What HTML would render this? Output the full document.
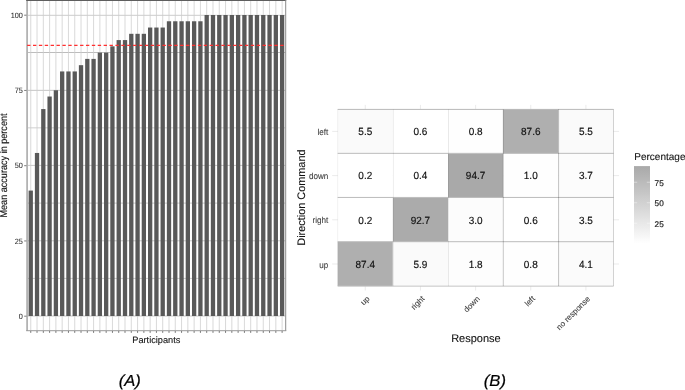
<!DOCTYPE html>
<html><head><meta charset="utf-8"><style>
html,body{margin:0;padding:0;background:#fff;}
body{width:685px;height:390px;overflow:hidden;}
svg{display:block;font-family:"Liberation Sans",sans-serif;text-rendering:geometricPrecision;}
</style></head><body>
<svg width="685" height="390" viewBox="0 0 685 390">
<rect width="685" height="390" fill="#fff"/>
<line x1="27.1" x2="285.4" y1="15.35" y2="15.35" stroke="#d6d6d6" stroke-width="1.3"/>
<line x1="27.1" x2="285.4" y1="52.5" y2="52.5" stroke="#bdbdbd" stroke-width="1.0"/>
<line x1="27.1" x2="285.4" y1="90.35" y2="90.35" stroke="#c6c6c6" stroke-width="1.0"/>
<line x1="27.1" x2="285.4" y1="127.8" y2="127.8" stroke="#e0e0e0" stroke-width="1.4"/>
<line x1="27.1" x2="285.4" y1="165.4" y2="165.4" stroke="#c8c8c8" stroke-width="1.0"/>
<line x1="27.1" x2="285.4" y1="203.1" y2="203.1" stroke="#cccccc" stroke-width="1.0"/>
<line x1="27.1" x2="285.4" y1="240.8" y2="240.8" stroke="#c8c8c8" stroke-width="1.0"/>
<line x1="27.1" x2="285.4" y1="278.4" y2="278.4" stroke="#cccccc" stroke-width="1.0"/>
<line x1="27.1" x2="285.4" y1="316" y2="316" stroke="#c8c8c8" stroke-width="1.0"/>
<line x1="30.75" x2="30.75" y1="-0.05" y2="331.05" stroke="#cccccc" stroke-width="0.75"/>
<line x1="37.03" x2="37.03" y1="-0.05" y2="331.05" stroke="#cccccc" stroke-width="0.75"/>
<line x1="43.32" x2="43.32" y1="-0.05" y2="331.05" stroke="#cccccc" stroke-width="0.75"/>
<line x1="49.60" x2="49.60" y1="-0.05" y2="331.05" stroke="#cccccc" stroke-width="0.75"/>
<line x1="55.89" x2="55.89" y1="-0.05" y2="331.05" stroke="#cccccc" stroke-width="0.75"/>
<line x1="62.17" x2="62.17" y1="-0.05" y2="331.05" stroke="#cccccc" stroke-width="0.75"/>
<line x1="68.45" x2="68.45" y1="-0.05" y2="331.05" stroke="#cccccc" stroke-width="0.75"/>
<line x1="74.74" x2="74.74" y1="-0.05" y2="331.05" stroke="#cccccc" stroke-width="0.75"/>
<line x1="81.02" x2="81.02" y1="-0.05" y2="331.05" stroke="#cccccc" stroke-width="0.75"/>
<line x1="87.31" x2="87.31" y1="-0.05" y2="331.05" stroke="#cccccc" stroke-width="0.75"/>
<line x1="93.59" x2="93.59" y1="-0.05" y2="331.05" stroke="#cccccc" stroke-width="0.75"/>
<line x1="99.87" x2="99.87" y1="-0.05" y2="331.05" stroke="#cccccc" stroke-width="0.75"/>
<line x1="106.16" x2="106.16" y1="-0.05" y2="331.05" stroke="#cccccc" stroke-width="0.75"/>
<line x1="112.44" x2="112.44" y1="-0.05" y2="331.05" stroke="#cccccc" stroke-width="0.75"/>
<line x1="118.73" x2="118.73" y1="-0.05" y2="331.05" stroke="#cccccc" stroke-width="0.75"/>
<line x1="125.01" x2="125.01" y1="-0.05" y2="331.05" stroke="#cccccc" stroke-width="0.75"/>
<line x1="131.29" x2="131.29" y1="-0.05" y2="331.05" stroke="#cccccc" stroke-width="0.75"/>
<line x1="137.58" x2="137.58" y1="-0.05" y2="331.05" stroke="#cccccc" stroke-width="0.75"/>
<line x1="143.86" x2="143.86" y1="-0.05" y2="331.05" stroke="#cccccc" stroke-width="0.75"/>
<line x1="150.15" x2="150.15" y1="-0.05" y2="331.05" stroke="#cccccc" stroke-width="0.75"/>
<line x1="156.43" x2="156.43" y1="-0.05" y2="331.05" stroke="#cccccc" stroke-width="0.75"/>
<line x1="162.71" x2="162.71" y1="-0.05" y2="331.05" stroke="#cccccc" stroke-width="0.75"/>
<line x1="169.00" x2="169.00" y1="-0.05" y2="331.05" stroke="#cccccc" stroke-width="0.75"/>
<line x1="175.28" x2="175.28" y1="-0.05" y2="331.05" stroke="#cccccc" stroke-width="0.75"/>
<line x1="181.57" x2="181.57" y1="-0.05" y2="331.05" stroke="#cccccc" stroke-width="0.75"/>
<line x1="187.85" x2="187.85" y1="-0.05" y2="331.05" stroke="#cccccc" stroke-width="0.75"/>
<line x1="194.13" x2="194.13" y1="-0.05" y2="331.05" stroke="#cccccc" stroke-width="0.75"/>
<line x1="200.42" x2="200.42" y1="-0.05" y2="331.05" stroke="#cccccc" stroke-width="0.75"/>
<line x1="206.70" x2="206.70" y1="-0.05" y2="331.05" stroke="#cccccc" stroke-width="0.75"/>
<line x1="212.99" x2="212.99" y1="-0.05" y2="331.05" stroke="#cccccc" stroke-width="0.75"/>
<line x1="219.27" x2="219.27" y1="-0.05" y2="331.05" stroke="#cccccc" stroke-width="0.75"/>
<line x1="225.55" x2="225.55" y1="-0.05" y2="331.05" stroke="#cccccc" stroke-width="0.75"/>
<line x1="231.84" x2="231.84" y1="-0.05" y2="331.05" stroke="#cccccc" stroke-width="0.75"/>
<line x1="238.12" x2="238.12" y1="-0.05" y2="331.05" stroke="#cccccc" stroke-width="0.75"/>
<line x1="244.41" x2="244.41" y1="-0.05" y2="331.05" stroke="#cccccc" stroke-width="0.75"/>
<line x1="250.69" x2="250.69" y1="-0.05" y2="331.05" stroke="#cccccc" stroke-width="0.75"/>
<line x1="256.97" x2="256.97" y1="-0.05" y2="331.05" stroke="#cccccc" stroke-width="0.75"/>
<line x1="263.26" x2="263.26" y1="-0.05" y2="331.05" stroke="#cccccc" stroke-width="0.75"/>
<line x1="269.54" x2="269.54" y1="-0.05" y2="331.05" stroke="#cccccc" stroke-width="0.75"/>
<line x1="275.83" x2="275.83" y1="-0.05" y2="331.05" stroke="#cccccc" stroke-width="0.75"/>
<line x1="282.11" x2="282.11" y1="-0.05" y2="331.05" stroke="#cccccc" stroke-width="0.75"/>
<rect x="28.60" y="190.58" width="4.3" height="125.42" fill="#595959"/>
<rect x="34.88" y="152.96" width="4.3" height="163.04" fill="#595959"/>
<rect x="41.17" y="109.06" width="4.3" height="206.94" fill="#595959"/>
<rect x="47.45" y="96.52" width="4.3" height="219.48" fill="#595959"/>
<rect x="53.74" y="90.25" width="4.3" height="225.75" fill="#595959"/>
<rect x="60.02" y="71.44" width="4.3" height="244.56" fill="#595959"/>
<rect x="66.30" y="71.44" width="4.3" height="244.56" fill="#595959"/>
<rect x="72.59" y="71.44" width="4.3" height="244.56" fill="#595959"/>
<rect x="78.87" y="65.17" width="4.3" height="250.83" fill="#595959"/>
<rect x="85.16" y="58.90" width="4.3" height="257.10" fill="#595959"/>
<rect x="91.44" y="58.90" width="4.3" height="257.10" fill="#595959"/>
<rect x="97.72" y="52.62" width="4.3" height="263.38" fill="#595959"/>
<rect x="104.01" y="52.62" width="4.3" height="263.38" fill="#595959"/>
<rect x="110.29" y="46.35" width="4.3" height="269.65" fill="#595959"/>
<rect x="116.58" y="40.08" width="4.3" height="275.92" fill="#595959"/>
<rect x="122.86" y="40.08" width="4.3" height="275.92" fill="#595959"/>
<rect x="129.14" y="33.81" width="4.3" height="282.19" fill="#595959"/>
<rect x="135.43" y="33.81" width="4.3" height="282.19" fill="#595959"/>
<rect x="141.71" y="33.81" width="4.3" height="282.19" fill="#595959"/>
<rect x="148.00" y="27.54" width="4.3" height="288.46" fill="#595959"/>
<rect x="154.28" y="27.54" width="4.3" height="288.46" fill="#595959"/>
<rect x="160.56" y="27.54" width="4.3" height="288.46" fill="#595959"/>
<rect x="166.85" y="21.27" width="4.3" height="294.73" fill="#595959"/>
<rect x="173.13" y="21.27" width="4.3" height="294.73" fill="#595959"/>
<rect x="179.42" y="21.27" width="4.3" height="294.73" fill="#595959"/>
<rect x="185.70" y="21.27" width="4.3" height="294.73" fill="#595959"/>
<rect x="191.98" y="21.27" width="4.3" height="294.73" fill="#595959"/>
<rect x="198.27" y="21.27" width="4.3" height="294.73" fill="#595959"/>
<rect x="204.55" y="15.00" width="4.3" height="301.00" fill="#595959"/>
<rect x="210.84" y="15.00" width="4.3" height="301.00" fill="#595959"/>
<rect x="217.12" y="15.00" width="4.3" height="301.00" fill="#595959"/>
<rect x="223.40" y="15.00" width="4.3" height="301.00" fill="#595959"/>
<rect x="229.69" y="15.00" width="4.3" height="301.00" fill="#595959"/>
<rect x="235.97" y="15.00" width="4.3" height="301.00" fill="#595959"/>
<rect x="242.26" y="15.00" width="4.3" height="301.00" fill="#595959"/>
<rect x="248.54" y="15.00" width="4.3" height="301.00" fill="#595959"/>
<rect x="254.82" y="15.00" width="4.3" height="301.00" fill="#595959"/>
<rect x="261.11" y="15.00" width="4.3" height="301.00" fill="#595959"/>
<rect x="267.39" y="15.00" width="4.3" height="301.00" fill="#595959"/>
<rect x="273.68" y="15.00" width="4.3" height="301.00" fill="#595959"/>
<rect x="279.96" y="15.00" width="4.3" height="301.00" fill="#595959"/>
<rect x="26.2" y="0" width="1.8" height="331" fill="#b3b3b3"/>
<rect x="26.2" y="0" width="260" height="1" fill="#5e5e5e"/>
<rect x="285.2" y="0" width="1" height="331" fill="#8a8a8a"/>
<rect x="26.2" y="330.2" width="260" height="1" fill="#9a9a9a"/>
<line x1="27.1" x2="285.4" y1="45.35" y2="45.35" stroke="#ff3030" stroke-width="1.3" stroke-dasharray="3.35 2.537"/>
<line x1="24.2" x2="26.5" y1="316.20" y2="316.20" stroke="#666" stroke-width="0.85"/>
<line x1="24.2" x2="26.5" y1="240.95" y2="240.95" stroke="#666" stroke-width="0.85"/>
<line x1="24.2" x2="26.5" y1="165.70" y2="165.70" stroke="#666" stroke-width="0.85"/>
<line x1="24.2" x2="26.5" y1="90.45" y2="90.45" stroke="#666" stroke-width="0.85"/>
<line x1="24.2" x2="26.5" y1="15.20" y2="15.20" stroke="#666" stroke-width="0.85"/>
<line x1="30.75" x2="30.75" y1="331" y2="332.9" stroke="#666" stroke-width="0.85"/>
<line x1="37.03" x2="37.03" y1="331" y2="332.9" stroke="#666" stroke-width="0.85"/>
<line x1="43.32" x2="43.32" y1="331" y2="332.9" stroke="#666" stroke-width="0.85"/>
<line x1="49.60" x2="49.60" y1="331" y2="332.9" stroke="#666" stroke-width="0.85"/>
<line x1="55.89" x2="55.89" y1="331" y2="332.9" stroke="#666" stroke-width="0.85"/>
<line x1="62.17" x2="62.17" y1="331" y2="332.9" stroke="#666" stroke-width="0.85"/>
<line x1="68.45" x2="68.45" y1="331" y2="332.9" stroke="#666" stroke-width="0.85"/>
<line x1="74.74" x2="74.74" y1="331" y2="332.9" stroke="#666" stroke-width="0.85"/>
<line x1="81.02" x2="81.02" y1="331" y2="332.9" stroke="#666" stroke-width="0.85"/>
<line x1="87.31" x2="87.31" y1="331" y2="332.9" stroke="#666" stroke-width="0.85"/>
<line x1="93.59" x2="93.59" y1="331" y2="332.9" stroke="#666" stroke-width="0.85"/>
<line x1="99.87" x2="99.87" y1="331" y2="332.9" stroke="#666" stroke-width="0.85"/>
<line x1="106.16" x2="106.16" y1="331" y2="332.9" stroke="#666" stroke-width="0.85"/>
<line x1="112.44" x2="112.44" y1="331" y2="332.9" stroke="#666" stroke-width="0.85"/>
<line x1="118.73" x2="118.73" y1="331" y2="332.9" stroke="#666" stroke-width="0.85"/>
<line x1="125.01" x2="125.01" y1="331" y2="332.9" stroke="#666" stroke-width="0.85"/>
<line x1="131.29" x2="131.29" y1="331" y2="332.9" stroke="#666" stroke-width="0.85"/>
<line x1="137.58" x2="137.58" y1="331" y2="332.9" stroke="#666" stroke-width="0.85"/>
<line x1="143.86" x2="143.86" y1="331" y2="332.9" stroke="#666" stroke-width="0.85"/>
<line x1="150.15" x2="150.15" y1="331" y2="332.9" stroke="#666" stroke-width="0.85"/>
<line x1="156.43" x2="156.43" y1="331" y2="332.9" stroke="#666" stroke-width="0.85"/>
<line x1="162.71" x2="162.71" y1="331" y2="332.9" stroke="#666" stroke-width="0.85"/>
<line x1="169.00" x2="169.00" y1="331" y2="332.9" stroke="#666" stroke-width="0.85"/>
<line x1="175.28" x2="175.28" y1="331" y2="332.9" stroke="#666" stroke-width="0.85"/>
<line x1="181.57" x2="181.57" y1="331" y2="332.9" stroke="#666" stroke-width="0.85"/>
<line x1="187.85" x2="187.85" y1="331" y2="332.9" stroke="#666" stroke-width="0.85"/>
<line x1="194.13" x2="194.13" y1="331" y2="332.9" stroke="#666" stroke-width="0.85"/>
<line x1="200.42" x2="200.42" y1="331" y2="332.9" stroke="#666" stroke-width="0.85"/>
<line x1="206.70" x2="206.70" y1="331" y2="332.9" stroke="#666" stroke-width="0.85"/>
<line x1="212.99" x2="212.99" y1="331" y2="332.9" stroke="#666" stroke-width="0.85"/>
<line x1="219.27" x2="219.27" y1="331" y2="332.9" stroke="#666" stroke-width="0.85"/>
<line x1="225.55" x2="225.55" y1="331" y2="332.9" stroke="#666" stroke-width="0.85"/>
<line x1="231.84" x2="231.84" y1="331" y2="332.9" stroke="#666" stroke-width="0.85"/>
<line x1="238.12" x2="238.12" y1="331" y2="332.9" stroke="#666" stroke-width="0.85"/>
<line x1="244.41" x2="244.41" y1="331" y2="332.9" stroke="#666" stroke-width="0.85"/>
<line x1="250.69" x2="250.69" y1="331" y2="332.9" stroke="#666" stroke-width="0.85"/>
<line x1="256.97" x2="256.97" y1="331" y2="332.9" stroke="#666" stroke-width="0.85"/>
<line x1="263.26" x2="263.26" y1="331" y2="332.9" stroke="#666" stroke-width="0.85"/>
<line x1="269.54" x2="269.54" y1="331" y2="332.9" stroke="#666" stroke-width="0.85"/>
<line x1="275.83" x2="275.83" y1="331" y2="332.9" stroke="#666" stroke-width="0.85"/>
<line x1="282.11" x2="282.11" y1="331" y2="332.9" stroke="#666" stroke-width="0.85"/>
<text transform="translate(22.90,318.80) scale(1.0,1.05)" text-anchor="end" font-size="7.3" fill="#2a2a2a" stroke="#2a2a2a" stroke-width="0.05">0</text>
<text transform="translate(22.90,243.55) scale(1.0,1.05)" text-anchor="end" font-size="7.3" fill="#2a2a2a" stroke="#2a2a2a" stroke-width="0.05">25</text>
<text transform="translate(22.90,168.30) scale(1.0,1.05)" text-anchor="end" font-size="7.3" fill="#2a2a2a" stroke="#2a2a2a" stroke-width="0.05">50</text>
<text transform="translate(22.90,93.05) scale(1.0,1.05)" text-anchor="end" font-size="7.3" fill="#2a2a2a" stroke="#2a2a2a" stroke-width="0.05">75</text>
<text transform="translate(22.90,17.80) scale(1.0,1.05)" text-anchor="end" font-size="7.3" fill="#2a2a2a" stroke="#2a2a2a" stroke-width="0.05">100</text>
<text transform="translate(6.90,165.50) rotate(-90) scale(1.0,1.1)" text-anchor="middle" font-size="9.1" fill="#111" stroke="#111" stroke-width="0.1">Mean accuracy in percent</text>
<text transform="translate(156.30,342.90)" text-anchor="middle" font-size="9.2" fill="#111" stroke="#111" stroke-width="0.1">Participants</text>
<line x1="365.28" x2="365.28" y1="104.88" y2="290.52" stroke="#e6e6e6" stroke-width="0.8"/>
<line x1="420.44" x2="420.44" y1="104.88" y2="290.52" stroke="#e6e6e6" stroke-width="0.8"/>
<line x1="475.60" x2="475.60" y1="104.88" y2="290.52" stroke="#e6e6e6" stroke-width="0.8"/>
<line x1="530.76" x2="530.76" y1="104.88" y2="290.52" stroke="#e6e6e6" stroke-width="0.8"/>
<line x1="585.92" x2="585.92" y1="104.88" y2="290.52" stroke="#e6e6e6" stroke-width="0.8"/>
<line x1="332.18" x2="619.02" y1="131.40" y2="131.40" stroke="#e6e6e6" stroke-width="0.8"/>
<line x1="332.18" x2="619.02" y1="175.60" y2="175.60" stroke="#e6e6e6" stroke-width="0.8"/>
<line x1="332.18" x2="619.02" y1="219.80" y2="219.80" stroke="#e6e6e6" stroke-width="0.8"/>
<line x1="332.18" x2="619.02" y1="264.00" y2="264.00" stroke="#e6e6e6" stroke-width="0.8"/>
<rect x="337.70" y="109.30" width="55.16" height="44.20" fill="#fafafa"/>
<rect x="392.86" y="109.30" width="55.16" height="44.20" fill="#ffffff"/>
<rect x="448.02" y="109.30" width="55.16" height="44.20" fill="#fefefe"/>
<rect x="503.18" y="109.30" width="55.16" height="44.20" fill="#afafaf"/>
<rect x="558.34" y="109.30" width="55.16" height="44.20" fill="#fafafa"/>
<rect x="337.70" y="153.50" width="55.16" height="44.20" fill="#ffffff"/>
<rect x="392.86" y="153.50" width="55.16" height="44.20" fill="#ffffff"/>
<rect x="448.02" y="153.50" width="55.16" height="44.20" fill="#a9a9a9"/>
<rect x="503.18" y="153.50" width="55.16" height="44.20" fill="#fefefe"/>
<rect x="558.34" y="153.50" width="55.16" height="44.20" fill="#fcfcfc"/>
<rect x="337.70" y="197.70" width="55.16" height="44.20" fill="#ffffff"/>
<rect x="392.86" y="197.70" width="55.16" height="44.20" fill="#ababab"/>
<rect x="448.02" y="197.70" width="55.16" height="44.20" fill="#fcfcfc"/>
<rect x="503.18" y="197.70" width="55.16" height="44.20" fill="#ffffff"/>
<rect x="558.34" y="197.70" width="55.16" height="44.20" fill="#fcfcfc"/>
<rect x="337.70" y="241.90" width="55.16" height="44.20" fill="#afafaf"/>
<rect x="392.86" y="241.90" width="55.16" height="44.20" fill="#fafafa"/>
<rect x="448.02" y="241.90" width="55.16" height="44.20" fill="#fdfdfd"/>
<rect x="503.18" y="241.90" width="55.16" height="44.20" fill="#fefefe"/>
<rect x="558.34" y="241.90" width="55.16" height="44.20" fill="#fbfbfb"/>
<line x1="337.70" x2="613.50" y1="109.4" y2="109.4" stroke="#b8b8b8" stroke-width="1"/>
<line x1="337.70" x2="613.50" y1="153.35" y2="153.35" stroke="#bcbcbc" stroke-width="1"/>
<line x1="337.70" x2="613.50" y1="197.45" y2="197.45" stroke="#bcbcbc" stroke-width="1"/>
<line x1="337.70" x2="613.50" y1="241.7" y2="241.7" stroke="#bcbcbc" stroke-width="1"/>
<line x1="337.70" x2="613.50" y1="286.15" y2="286.15" stroke="#c4c4c4" stroke-width="1"/>
<line x1="337.7" x2="337.7" y1="109.30" y2="286.10" stroke="#f2f2f2" stroke-width="1" style="mix-blend-mode:multiply"/>
<line x1="393.4" x2="393.4" y1="109.30" y2="286.10" stroke="#eeeeee" stroke-width="1" style="mix-blend-mode:multiply"/>
<line x1="448.5" x2="448.5" y1="109.30" y2="286.10" stroke="#eaeaea" stroke-width="1" style="mix-blend-mode:multiply"/>
<line x1="503.3" x2="503.3" y1="109.30" y2="286.10" stroke="#c8c8c8" stroke-width="1" style="mix-blend-mode:multiply"/>
<line x1="558.6" x2="558.6" y1="109.30" y2="286.10" stroke="#c4c4c4" stroke-width="1" style="mix-blend-mode:multiply"/>
<line x1="613.5" x2="613.5" y1="109.30" y2="286.10" stroke="#d4d4d4" stroke-width="1" style="mix-blend-mode:multiply"/>
<text transform="translate(365.28,135.10) scale(1.0,1.04)" text-anchor="middle" font-size="10" fill="#111" stroke="#111" stroke-width="0.15">5.5</text>
<text transform="translate(420.44,135.10) scale(1.0,1.04)" text-anchor="middle" font-size="10" fill="#111" stroke="#111" stroke-width="0.15">0.6</text>
<text transform="translate(475.60,135.10) scale(1.0,1.04)" text-anchor="middle" font-size="10" fill="#111" stroke="#111" stroke-width="0.15">0.8</text>
<text transform="translate(530.76,135.10) scale(1.0,1.04)" text-anchor="middle" font-size="10" fill="#111" stroke="#111" stroke-width="0.15">87.6</text>
<text transform="translate(585.92,135.10) scale(1.0,1.04)" text-anchor="middle" font-size="10" fill="#111" stroke="#111" stroke-width="0.15">5.5</text>
<text transform="translate(365.28,179.30) scale(1.0,1.04)" text-anchor="middle" font-size="10" fill="#111" stroke="#111" stroke-width="0.15">0.2</text>
<text transform="translate(420.44,179.30) scale(1.0,1.04)" text-anchor="middle" font-size="10" fill="#111" stroke="#111" stroke-width="0.15">0.4</text>
<text transform="translate(475.60,179.30) scale(1.0,1.04)" text-anchor="middle" font-size="10" fill="#111" stroke="#111" stroke-width="0.15">94.7</text>
<text transform="translate(530.76,179.30) scale(1.0,1.04)" text-anchor="middle" font-size="10" fill="#111" stroke="#111" stroke-width="0.15">1.0</text>
<text transform="translate(585.92,179.30) scale(1.0,1.04)" text-anchor="middle" font-size="10" fill="#111" stroke="#111" stroke-width="0.15">3.7</text>
<text transform="translate(365.28,223.50) scale(1.0,1.04)" text-anchor="middle" font-size="10" fill="#111" stroke="#111" stroke-width="0.15">0.2</text>
<text transform="translate(420.44,223.50) scale(1.0,1.04)" text-anchor="middle" font-size="10" fill="#111" stroke="#111" stroke-width="0.15">92.7</text>
<text transform="translate(475.60,223.50) scale(1.0,1.04)" text-anchor="middle" font-size="10" fill="#111" stroke="#111" stroke-width="0.15">3.0</text>
<text transform="translate(530.76,223.50) scale(1.0,1.04)" text-anchor="middle" font-size="10" fill="#111" stroke="#111" stroke-width="0.15">0.6</text>
<text transform="translate(585.92,223.50) scale(1.0,1.04)" text-anchor="middle" font-size="10" fill="#111" stroke="#111" stroke-width="0.15">3.5</text>
<text transform="translate(365.28,267.70) scale(1.0,1.04)" text-anchor="middle" font-size="10" fill="#111" stroke="#111" stroke-width="0.15">87.4</text>
<text transform="translate(420.44,267.70) scale(1.0,1.04)" text-anchor="middle" font-size="10" fill="#111" stroke="#111" stroke-width="0.15">5.9</text>
<text transform="translate(475.60,267.70) scale(1.0,1.04)" text-anchor="middle" font-size="10" fill="#111" stroke="#111" stroke-width="0.15">1.8</text>
<text transform="translate(530.76,267.70) scale(1.0,1.04)" text-anchor="middle" font-size="10" fill="#111" stroke="#111" stroke-width="0.15">0.8</text>
<text transform="translate(585.92,267.70) scale(1.0,1.04)" text-anchor="middle" font-size="10" fill="#111" stroke="#111" stroke-width="0.15">4.1</text>
<text transform="translate(328.30,134.90) scale(0.93,1.0)" text-anchor="end" font-size="8.7" fill="#404040" stroke="#404040" stroke-width="0.1">left</text>
<text transform="translate(328.30,179.10) scale(0.93,1.0)" text-anchor="end" font-size="8.7" fill="#404040" stroke="#404040" stroke-width="0.1">down</text>
<text transform="translate(328.30,223.30) scale(0.93,1.0)" text-anchor="end" font-size="8.7" fill="#404040" stroke="#404040" stroke-width="0.1">right</text>
<text transform="translate(328.30,267.50) scale(0.93,1.0)" text-anchor="end" font-size="8.7" fill="#404040" stroke="#404040" stroke-width="0.1">up</text>
<text transform="translate(366.08,295.3) rotate(-45)" text-anchor="end" font-size="8" fill="#404040" stroke="#404040" stroke-width="0.1" dominant-baseline="hanging">up</text>
<text transform="translate(421.24,295.3) rotate(-45)" text-anchor="end" font-size="8" fill="#404040" stroke="#404040" stroke-width="0.1" dominant-baseline="hanging">right</text>
<text transform="translate(476.40,295.3) rotate(-45)" text-anchor="end" font-size="8" fill="#404040" stroke="#404040" stroke-width="0.1" dominant-baseline="hanging">down</text>
<text transform="translate(531.56,295.3) rotate(-45)" text-anchor="end" font-size="8" fill="#404040" stroke="#404040" stroke-width="0.1" dominant-baseline="hanging">left</text>
<text transform="translate(586.72,295.3) rotate(-45)" text-anchor="end" font-size="8" fill="#404040" stroke="#404040" stroke-width="0.1" dominant-baseline="hanging">no response</text>
<text transform="translate(475.90,341.60)" text-anchor="middle" font-size="11" fill="#111" stroke="#111" stroke-width="0.1">Response</text>
<text transform="translate(304.90,197.60) rotate(-90)" text-anchor="middle" font-size="10.9" fill="#111" stroke="#111" stroke-width="0.1">Direction Command</text>
<text transform="translate(634.30,160.20)" font-size="10" fill="#111" stroke="#111" stroke-width="0.1">Percentage</text>
<defs><linearGradient id="g" x1="0" y1="0" x2="0" y2="1"><stop offset="0.000" stop-color="#a9a9a9"/><stop offset="0.050" stop-color="#adadad"/><stop offset="0.100" stop-color="#b1b1b1"/><stop offset="0.150" stop-color="#b5b5b5"/><stop offset="0.200" stop-color="#bababa"/><stop offset="0.250" stop-color="#bebebe"/><stop offset="0.300" stop-color="#c2c2c2"/><stop offset="0.350" stop-color="#c6c6c6"/><stop offset="0.400" stop-color="#cbcbcb"/><stop offset="0.450" stop-color="#cfcfcf"/><stop offset="0.500" stop-color="#d3d3d3"/><stop offset="0.550" stop-color="#d7d7d7"/><stop offset="0.600" stop-color="#dcdcdc"/><stop offset="0.650" stop-color="#e0e0e0"/><stop offset="0.700" stop-color="#e5e5e5"/><stop offset="0.750" stop-color="#e9e9e9"/><stop offset="0.800" stop-color="#ededed"/><stop offset="0.850" stop-color="#f2f2f2"/><stop offset="0.900" stop-color="#f6f6f6"/><stop offset="0.950" stop-color="#fbfbfb"/><stop offset="1.000" stop-color="#ffffff"/></linearGradient></defs>
<rect x="634" y="166.1" width="16" height="77.5" fill="url(#g)"/>
<line x1="634" x2="637.2" y1="223.26" y2="223.26" stroke="#fff" stroke-opacity="0.6" stroke-width="0.7"/>
<line x1="646.8" x2="650" y1="223.26" y2="223.26" stroke="#fff" stroke-opacity="0.6" stroke-width="0.7"/>
<text transform="translate(654.60,226.66)" font-size="8.2" fill="#222" stroke="#222" stroke-width="0.2">25</text>
<line x1="634" x2="637.2" y1="202.76" y2="202.76" stroke="#fff" stroke-opacity="0.6" stroke-width="0.7"/>
<line x1="646.8" x2="650" y1="202.76" y2="202.76" stroke="#fff" stroke-opacity="0.6" stroke-width="0.7"/>
<text transform="translate(654.60,206.16)" font-size="8.2" fill="#222" stroke="#222" stroke-width="0.2">50</text>
<line x1="634" x2="637.2" y1="182.26" y2="182.26" stroke="#fff" stroke-opacity="0.6" stroke-width="0.7"/>
<line x1="646.8" x2="650" y1="182.26" y2="182.26" stroke="#fff" stroke-opacity="0.6" stroke-width="0.7"/>
<text transform="translate(654.60,185.66)" font-size="8.2" fill="#222" stroke="#222" stroke-width="0.2">75</text>
<text transform="translate(129.80,385.80) scale(1.04,1.0)" text-anchor="middle" font-size="16" fill="#000" stroke="#000" stroke-width="0.2" font-style="italic">(A)</text>
<text transform="translate(494.90,385.60) scale(1.04,1.0)" text-anchor="middle" font-size="16" fill="#000" stroke="#000" stroke-width="0.2" font-style="italic">(B)</text>
</svg>
</body></html>
